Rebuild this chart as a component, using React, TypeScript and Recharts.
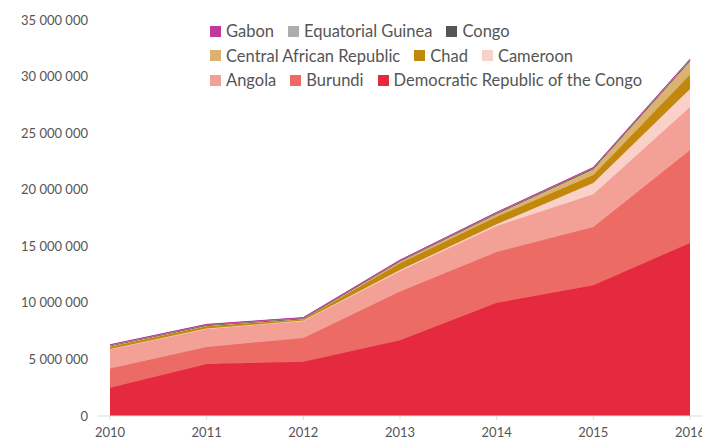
import { Area, AreaChart, XAxis, YAxis } from "recharts";

const years: string[] = ["2010", "2011", "2012", "2013", "2014", "2015", "2016"];

// stack order, bottom to top
const drc: number[] = [2500000, 4600000, 4800000, 6700000, 10000000, 11550000, 15300000];
const burundi: number[] = [1700000, 1500000, 2100000, 4300000, 4500000, 5150000, 8200000];
const angola: number[] = [1700000, 1600000, 1500000, 1800000, 2300000, 2900000, 3800000];
const cameroon: number[] = [30000, 30000, 30000, 100000, 150000, 1000000, 1600000];
const chad: number[] = [200000, 200000, 100000, 600000, 650000, 700000, 1250000];
const car: number[] = [50000, 50000, 50000, 150000, 250000, 500000, 1200000];
const congo: number[] = [60000, 60000, 60000, 70000, 80000, 90000, 100000];
const eqGuinea: number[] = [30000, 30000, 30000, 30000, 40000, 40000, 50000];
const gabon: number[] = [30000, 30000, 30000, 30000, 30000, 40000, 40000];

const yTicks: number[] = [0, 5000000, 10000000, 15000000, 20000000, 25000000, 30000000, 35000000];

const series = [
    { key: "drc", name: "Democratic Republic of the Congo", color: "#E5293E", values: drc },
    { key: "burundi", name: "Burundi", color: "#EC6B65", values: burundi },
    { key: "angola", name: "Angola", color: "#F3A096", values: angola },
    { key: "cameroon", name: "Cameroon", color: "#FAD1C9", values: cameroon },
    { key: "chad", name: "Chad", color: "#C2880E", values: chad },
    { key: "car", name: "Central African Republic", color: "#D9B36F", values: car },
    { key: "congo", name: "Congo", color: "#555555", values: congo },
    { key: "eqGuinea", name: "Equatorial Guinea", color: "#ADADAD", values: eqGuinea },
    { key: "gabon", name: "Gabon", color: "#C0399A", values: gabon },
];

const legendRows: string[][] = [
    ["gabon", "eqGuinea", "congo"],
    ["car", "chad", "cameroon"],
    ["angola", "burundi", "drc"],
];

const data = years.map((year, i) => {
    const row: Record<string, number | string> = { year };
    series.forEach((s) => {
        row[s.key] = s.values[i];
    });
    return row;
});

const fmt = (v: number) => String(v).replace(/\B(?=(\d{3})+(?!\d))/g, " ");

const FONT = "Lato, 'Open Sans', sans-serif";

// legend sits over the plot, so it is drawn outside recharts to keep the plot area full height
function LegendRows() {
    return (
        <div style={{ position: "absolute", left: 210, top: 19, fontFamily: FONT, fontSize: 16.5, color: "#555", lineHeight: "24.5px" }}>
            {legendRows.map((row, r) => (
                <div key={r} style={{ display: "flex", alignItems: "center" }}>
                    {row.map((k) => {
                        const s = series.find((x) => x.key === k)!;
                        return (
                            <span key={k} style={{ display: "flex", alignItems: "center", marginRight: 14 }}>
                                <span style={{ width: 11, height: 11, background: s.color, marginRight: 5, display: "inline-block" }} />
                                {s.name}
                            </span>
                        );
                    })}
                </div>
            ))}
        </div>
    );
}

export default function App() {
    return (
        <div style={{ position: "fixed", left: 0, top: 0, width: 702, height: 439, overflow: "hidden", background: "#fff" }}>
            <AreaChart width={716} height={439} data={data} margin={{ top: 20, right: 14, bottom: 0, left: 0 }}>
                <XAxis
                    dataKey="year"
                    padding={{ left: 12, right: 12 }}
                    axisLine={{ stroke: "#ddd" }}
                    tickLine={{ stroke: "#ddd" }}
                    tickSize={4}
                    tickMargin={8}
                    height={23}
                    interval={0}
                    tick={{ fill: "#555", fontSize: 13, fontFamily: FONT }}
                />
                <YAxis
                    domain={[0, 35000000]}
                    ticks={yTicks}
                    tickFormatter={fmt}
                    axisLine={false}
                    tickLine={false}
                    tickSize={0}
                    tickMargin={10}
                    width={98}
                    tick={{ fill: "#555", fontSize: 13, fontFamily: FONT }}
                />
                {series.map((s) => (
                    <Area
                        key={s.key}
                        type="linear"
                        dataKey={s.key}
                        name={s.name}
                        stackId="a"
                        fill={s.color}
                        fillOpacity={1}
                        stroke={s.color}
                        strokeWidth={1}
                        isAnimationActive={false}
                    />
                ))}
            </AreaChart>
            <LegendRows />
        </div>
    );
}
